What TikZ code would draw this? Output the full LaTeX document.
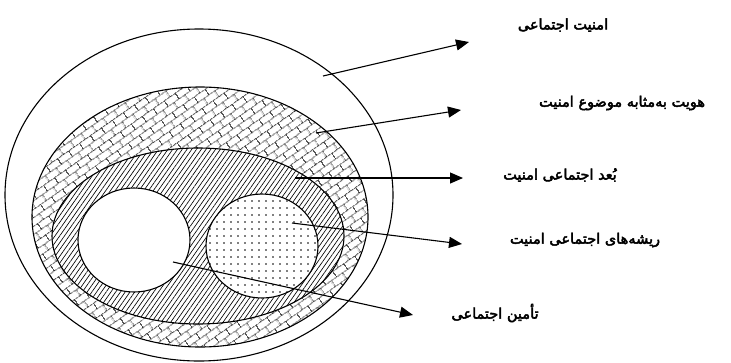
\documentclass[tikz,border=0pt]{standalone}
\usepackage{fontspec}
\usetikzlibrary{arrows.meta,patterns,patterns.meta}
\TeXXeTstate=1
\newfontfamily\arabicfont[Script=Arabic,FakeBold=3]{DejaVu Sans}
\tikzdeclarepattern{
  name=rbricks,
  type=uncolored,
  bounding box={(0,0) and (14pt,14pt)},
  tile size={(14pt,14pt)},
  tile transformation={rotate=35},
  code={
    \draw[line width=0.6pt] (0,3.5pt) -- (14pt,3.5pt) (0,10.5pt) -- (14pt,10.5pt)
      (2pt,3.5pt) -- (2pt,10.5pt) (9pt,10.5pt) -- (9pt,14pt) (9pt,0pt) -- (9pt,3.5pt);
  }
}
\tikzset{
  ring/.style={line width=1.1pt},
  lbl/.style={font=\arabicfont\fontsize{14.5}{16}\selectfont, inner sep=0pt},
  pointer/.style={line width=1.1pt, -{Triangle[length=13pt,width=11pt]}}
}
\begin{document}
\begin{tikzpicture}[x=1pt,y=-1pt]
\useasboundingbox (0,0) rectangle (731,362);
% shapes
\draw[ring, fill=white] (199,195) ellipse [x radius=194pt, y radius=166pt];
\draw[ring, pattern=rbricks] (200,217) ellipse [x radius=168pt, y radius=130pt];
\fill[white] (198,236) ellipse [x radius=146pt, y radius=88pt];
\draw[ring, pattern={Lines[angle=55,distance=3.9pt,line width=0.65pt]}] (198,236) ellipse [x radius=146pt, y radius=88pt];
\draw[ring, fill=white] (134,240) ellipse [x radius=56pt, y radius=52pt];
\fill[white] (262,246) ellipse [x radius=56pt, y radius=52pt];
\draw[ring, pattern={Dots[distance=7pt,radius=0.95pt]}] (262,246) ellipse [x radius=56pt, y radius=52pt];
% labels
\node[lbl] (t1) at (563,25) {\beginR امنیت اجتماعی\endR};
\node[lbl] (t2) at (622,103) {\beginR هویت به‌مثابه موضوع امنیت\endR};
\node[lbl] (t3) at (560,175) {\beginR بُعد اجتماعی امنیت\endR};
\node[lbl] (t4) at (585,240) {\beginR ریشه‌های اجتماعی امنیت\endR};
\node[lbl] (t5) at (495,313) {\beginR تأمین اجتماعی\endR};
% pointer ends
\coordinate (s1) at (323,76);  \coordinate (e1) at (469,42);
\coordinate (s2) at (316,133); \coordinate (e2) at (461,110);
\coordinate (s3) at (295,178); \coordinate (e3) at (463,178);
\coordinate (s4) at (292,223); \coordinate (e4) at (462,244);
\coordinate (s5) at (173,262); \coordinate (e5) at (413,315);
\draw[pointer] (s1) -- (e1);
\draw[pointer] (s2) -- (e2);
\draw[pointer] (s3) -- (e3);
\draw[pointer] (s4) -- (e4);
\draw[pointer] (s5) -- (e5);
\end{tikzpicture}
\end{document}
